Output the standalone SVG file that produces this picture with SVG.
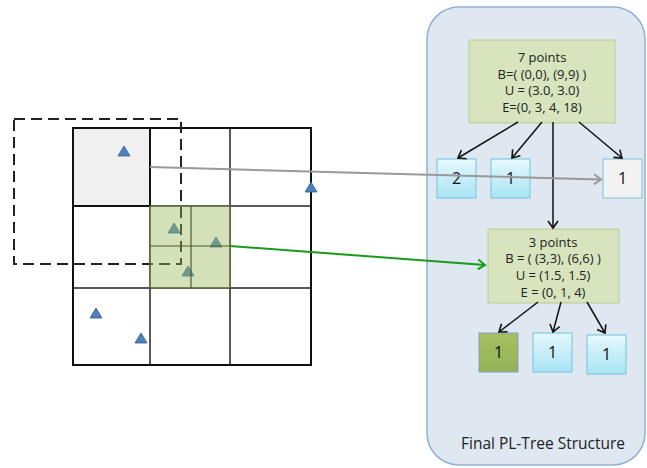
<svg xmlns="http://www.w3.org/2000/svg" width="647" height="468" viewBox="0 0 647 468">
<defs>
<linearGradient id="cyan" x1="0" y1="0" x2="0" y2="1">
<stop offset="0" stop-color="#e6f8fd"/>
<stop offset="1" stop-color="#a8e3f4"/>
</linearGradient>
<linearGradient id="olive" x1="0" y1="0" x2="0" y2="1">
<stop offset="0" stop-color="#a6c063"/>
<stop offset="1" stop-color="#93b255"/>
</linearGradient>
<marker id="ah" markerWidth="12" markerHeight="12" refX="9" refY="6" orient="auto" markerUnits="userSpaceOnUse">
<path d="M2,1 L9,6 L2,11" fill="none" stroke="#111" stroke-width="1.6"/>
</marker>
<marker id="ahg" markerWidth="12" markerHeight="12" refX="9" refY="6" orient="auto" markerUnits="userSpaceOnUse">
<path d="M2,1 L9,6 L2,11" fill="none" stroke="#999" stroke-width="2"/>
</marker>
<marker id="ahgr" markerWidth="12" markerHeight="12" refX="9" refY="6" orient="auto" markerUnits="userSpaceOnUse">
<path d="M2,1 L9,6 L2,11" fill="none" stroke="#1a9a1a" stroke-width="2"/>
</marker>
</defs>
<style>
.tri{fill:#4f81bd;stroke:#2e5a8a;stroke-width:0.8}
.inner{stroke:#222;stroke-width:1.5;fill:none}
.node{fill:#d7e4bd;stroke:#b9cd8f;stroke-width:1}
.leaf{fill:url(#cyan);stroke:#7fcbe0;stroke-width:1.2}
.t{font-family:"Open Sans","Liberation Sans",sans-serif;font-size:13px;fill:#222;text-anchor:middle}
.lt{font-family:"Open Sans","Liberation Sans",sans-serif;font-size:16px;fill:#111;text-anchor:middle}
.edge{stroke:#111;stroke-width:1.5;fill:none;marker-end:url(#ah)}
</style>
<rect width="647" height="468" fill="#fff"/>

<g id="grid">
<rect x="73" y="128" width="77" height="78" fill="#f0f0f0"/>
<line class="inner" x1="150" y1="128" x2="150" y2="365"/>
<line class="inner" x1="230" y1="128" x2="230" y2="365"/>
<line class="inner" x1="73" y1="206" x2="311" y2="206"/>
<line class="inner" x1="73" y1="288" x2="311" y2="288"/>
<rect x="73" y="128" width="77" height="78" fill="none" stroke="#111" stroke-width="2"/>
<rect x="73" y="128" width="238" height="237" fill="none" stroke="#111" stroke-width="2"/>
</g>

<g id="points">
<polygon class="tri" points="124,146 130,156 118,156"/>
<polygon class="tri" points="311,182 317,192 305,192"/>
<polygon class="tri" points="174,223 180,233 168,233"/>
<polygon class="tri" points="216,237 222,247 210,247"/>
<polygon class="tri" points="188,266 194,276 182,276"/>
<polygon class="tri" points="96,308 102,318 90,318"/>
<polygon class="tri" points="141,333 147,343 135,343"/>
</g>

<g id="query">
<rect x="14" y="119" width="167" height="145" fill="none" stroke="#222" stroke-width="2" stroke-dasharray="11,6"/>
</g>

<g id="green-cell">
<rect x="150" y="206" width="80" height="82" fill="#9bbb59" fill-opacity="0.42" stroke="#6f7f45" stroke-width="1"/>
<line x1="191" y1="206" x2="191" y2="288" stroke="#4f5a2a" stroke-width="1.2"/>
<line x1="150" y1="246" x2="230" y2="246" stroke="#4f5a2a" stroke-width="1.2"/>
</g>

<g id="panel">
<rect x="427" y="7" width="218" height="458" rx="32" fill="#dfe8f1" stroke="#8fb1d7" stroke-width="1.5"/>
<text x="543" y="449" font-family="'Open Sans','Liberation Sans',sans-serif" font-size="15.5" fill="#222" text-anchor="middle">Final PL-Tree Structure</text>
</g>

<g id="root">
<rect class="node" x="469" y="40" width="146" height="83"/>
<text class="t" x="542" y="62">7 points</text>
<text class="t" x="542" y="78.5">B=( (0,0), (9,9) )</text>
<text class="t" x="542" y="95">U = (3.0, 3.0)</text>
<text class="t" x="542" y="112">E=(0, 3, 4, 18)</text>
</g>

<g id="mid">
<rect class="node" x="488" y="229" width="131" height="74"/>
<text class="t" x="553" y="246.5">3 points</text>
<text class="t" x="553" y="263">B = ( (3,3), (6,6) )</text>
<text class="t" x="553" y="279.5">U = (1.5, 1.5)</text>
<text class="t" x="553" y="296.5">E = (0, 1, 4)</text>
</g>

<g id="leaf-a">
<rect class="leaf" x="437" y="159" width="39" height="39"/>
<text class="lt" x="456.5" y="184">2</text>
</g>
<g id="leaf-b">
<rect class="leaf" x="491" y="159" width="39" height="39"/>
<text class="lt" x="510.5" y="184">1</text>
</g>
<g id="leaf-c">
<rect x="603" y="159" width="39" height="39" fill="#f2f2f2" stroke="#8ec9dc" stroke-width="1.2"/>
<text class="lt" x="622.5" y="184">1</text>
</g>
<g id="leaf-d">
<rect x="479" y="333" width="39" height="39" fill="url(#olive)" stroke="#84a0c0" stroke-width="1"/>
<text class="lt" x="498.5" y="358">1</text>
</g>
<g id="leaf-e">
<rect class="leaf" x="533" y="333" width="39" height="39"/>
<text class="lt" x="552.5" y="358">1</text>
</g>
<g id="leaf-f">
<rect class="leaf" x="587" y="335" width="39" height="39"/>
<text class="lt" x="606.5" y="360">1</text>
</g>

<g id="connectors">
<line class="edge" x1="518" y1="122" x2="458" y2="158"/>
<line class="edge" x1="542" y1="122" x2="512" y2="158"/>
<line class="edge" x1="553" y1="122" x2="553" y2="228"/>
<line class="edge" x1="579" y1="122" x2="622" y2="158"/>
<line class="edge" x1="538" y1="302" x2="499" y2="332"/>
<line class="edge" x1="561" y1="302" x2="553" y2="332"/>
<line class="edge" x1="587" y1="302" x2="605" y2="333"/>
<line x1="150" y1="167" x2="601" y2="179.5" stroke="#999" stroke-width="2" marker-end="url(#ahg)"/>
<line x1="230" y1="246" x2="485" y2="265" stroke="#1a9a1a" stroke-width="2" marker-end="url(#ahgr)"/>
</g>
</svg>
